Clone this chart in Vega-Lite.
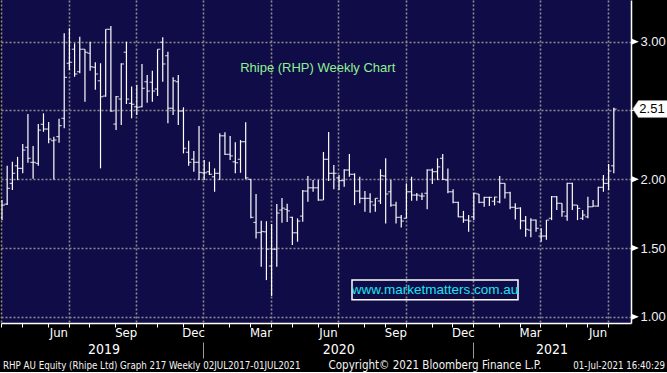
{
  "$schema": "https://vega.github.io/schema/vega-lite/v6.json",
  "width": 630,
  "height": 323,
  "padding": 0,
  "autosize": {"type": "pad"},
  "background": "#000000",
  "config": {
    "view": {"fill": "#100c48", "stroke": null},
    "axis": {"labelFont": "Liberation Sans Narrow, DejaVu Sans Condensed, Arial Narrow, sans-serif"}
  },
  "datasets": {
    "ohlc": [
      {"date": "2019-03-29", "open": 1.72, "high": 1.849, "low": 1.703, "close": 1.812},
      {"date": "2019-04-05", "open": 1.819, "high": 2.098, "low": 1.812, "close": 1.934},
      {"date": "2019-04-12", "open": 1.97, "high": 2.127, "low": 1.921, "close": 2.043},
      {"date": "2019-04-19", "open": 2.098, "high": 2.163, "low": 1.994, "close": 2.079},
      {"date": "2019-04-26", "open": 2.079, "high": 2.256, "low": 2.043, "close": 2.212},
      {"date": "2019-05-03", "open": 2.232, "high": 2.474, "low": 2.12, "close": 2.152},
      {"date": "2019-05-10", "open": 2.123, "high": 2.241, "low": 2.003, "close": 2.123},
      {"date": "2019-05-17", "open": 2.115, "high": 2.401, "low": 2.098, "close": 2.357},
      {"date": "2019-05-24", "open": 2.399, "high": 2.479, "low": 2.345, "close": 2.365},
      {"date": "2019-05-31", "open": 2.365, "high": 2.416, "low": 2.261, "close": 2.292},
      {"date": "2019-06-07", "open": 2.28, "high": 2.309, "low": 1.999, "close": 2.285},
      {"date": "2019-06-14", "open": 2.31, "high": 2.44, "low": 2.266, "close": 2.39},
      {"date": "2019-06-21", "open": 2.443, "high": 3.061, "low": 2.37, "close": 2.741},
      {"date": "2019-06-28", "open": 2.843, "high": 3.097, "low": 2.794, "close": 2.85},
      {"date": "2019-07-05", "open": 2.945, "high": 2.988, "low": 2.745, "close": 2.765},
      {"date": "2019-07-12", "open": 2.782, "high": 3.036, "low": 2.77, "close": 2.945},
      {"date": "2019-07-19", "open": 2.945, "high": 2.945, "low": 2.564, "close": 2.923},
      {"date": "2019-07-26", "open": 2.916, "high": 3.0, "low": 2.789, "close": 2.818},
      {"date": "2019-08-02", "open": 2.814, "high": 2.85, "low": 2.65, "close": 2.765},
      {"date": "2019-08-09", "open": 2.716, "high": 2.843, "low": 2.079, "close": 2.6},
      {"date": "2019-08-16", "open": 2.605, "high": 3.09, "low": 2.6, "close": 3.09},
      {"date": "2019-08-23", "open": 3.09, "high": 3.114, "low": 2.491, "close": 2.496},
      {"date": "2019-08-30", "open": 2.401, "high": 2.605, "low": 2.358, "close": 2.6},
      {"date": "2019-09-06", "open": 2.583, "high": 2.843, "low": 2.394, "close": 2.838},
      {"date": "2019-09-13", "open": 2.923, "high": 3.0, "low": 2.547, "close": 2.583},
      {"date": "2019-09-20", "open": 2.552, "high": 2.675, "low": 2.443, "close": 2.545},
      {"date": "2019-09-27", "open": 2.527, "high": 2.685, "low": 2.467, "close": 2.523},
      {"date": "2019-10-04", "open": 2.527, "high": 2.838, "low": 2.523, "close": 2.661},
      {"date": "2019-10-11", "open": 2.709, "high": 2.758, "low": 2.556, "close": 2.641},
      {"date": "2019-10-18", "open": 2.705, "high": 2.789, "low": 2.564, "close": 2.641},
      {"date": "2019-10-25", "open": 2.656, "high": 2.945, "low": 2.605, "close": 2.945},
      {"date": "2019-11-01", "open": 2.996, "high": 3.032, "low": 2.709, "close": 2.838},
      {"date": "2019-11-08", "open": 2.898, "high": 2.927, "low": 2.407, "close": 2.516},
      {"date": "2019-11-15", "open": 2.516, "high": 2.741, "low": 2.467, "close": 2.716},
      {"date": "2019-11-22", "open": 2.709, "high": 2.758, "low": 2.394, "close": 2.496},
      {"date": "2019-11-29", "open": 2.496, "high": 2.523, "low": 2.188, "close": 2.225},
      {"date": "2019-12-06", "open": 2.196, "high": 2.28, "low": 2.098, "close": 2.123},
      {"date": "2019-12-13", "open": 2.145, "high": 2.205, "low": 2.054, "close": 2.123},
      {"date": "2019-12-20", "open": 2.123, "high": 2.387, "low": 1.994, "close": 2.05},
      {"date": "2019-12-27", "open": 2.047, "high": 2.14, "low": 1.994, "close": 2.047},
      {"date": "2020-01-03", "open": 2.055, "high": 2.127, "low": 2.031, "close": 2.036},
      {"date": "2020-01-10", "open": 2.018, "high": 2.079, "low": 1.909, "close": 2.043},
      {"date": "2020-01-17", "open": 2.043, "high": 2.334, "low": 1.994, "close": 2.316},
      {"date": "2020-01-24", "open": 2.316, "high": 2.341, "low": 2.176, "close": 2.181},
      {"date": "2020-01-31", "open": 2.181, "high": 2.314, "low": 2.14, "close": 2.17},
      {"date": "2020-02-07", "open": 2.127, "high": 2.269, "low": 2.043, "close": 2.12},
      {"date": "2020-02-14", "open": 2.145, "high": 2.285, "low": 2.047, "close": 2.273},
      {"date": "2020-02-21", "open": 2.273, "high": 2.414, "low": 2.0, "close": 2.01},
      {"date": "2020-02-28", "open": 1.999, "high": 2.0, "low": 1.716, "close": 1.723},
      {"date": "2020-03-06", "open": 1.686, "high": 1.893, "low": 1.57, "close": 1.611},
      {"date": "2020-03-13", "open": 1.613, "high": 1.698, "low": 1.364, "close": 1.62},
      {"date": "2020-03-20", "open": 1.618, "high": 1.695, "low": 1.267, "close": 1.492},
      {"date": "2020-03-27", "open": 1.369, "high": 1.674, "low": 1.151, "close": 1.492},
      {"date": "2020-04-03", "open": 1.49, "high": 1.82, "low": 1.364, "close": 1.754},
      {"date": "2020-04-10", "open": 1.776, "high": 1.863, "low": 1.684, "close": 1.79},
      {"date": "2020-04-17", "open": 1.781, "high": 1.822, "low": 1.69, "close": 1.77},
      {"date": "2020-04-24", "open": 1.723, "high": 1.727, "low": 1.522, "close": 1.611},
      {"date": "2020-05-01", "open": 1.611, "high": 1.716, "low": 1.546, "close": 1.696},
      {"date": "2020-05-08", "open": 1.732, "high": 1.922, "low": 1.691, "close": 1.914},
      {"date": "2020-05-15", "open": 1.914, "high": 2.023, "low": 1.836, "close": 1.938},
      {"date": "2020-05-22", "open": 1.938, "high": 1.994, "low": 1.909, "close": 1.938},
      {"date": "2020-05-29", "open": 1.938, "high": 1.994, "low": 1.844, "close": 1.849},
      {"date": "2020-06-05", "open": 1.849, "high": 2.198, "low": 1.849, "close": 2.145},
      {"date": "2020-06-12", "open": 2.145, "high": 2.343, "low": 1.987, "close": 2.043},
      {"date": "2020-06-19", "open": 2.043, "high": 2.103, "low": 1.927, "close": 2.043},
      {"date": "2020-06-26", "open": 2.01, "high": 2.031, "low": 1.922, "close": 1.99},
      {"date": "2020-07-03", "open": 1.99, "high": 2.072, "low": 1.945, "close": 2.067},
      {"date": "2020-07-10", "open": 2.067, "high": 2.183, "low": 2.018, "close": 2.036},
      {"date": "2020-07-17", "open": 2.036, "high": 2.043, "low": 1.812, "close": 1.914},
      {"date": "2020-07-24", "open": 1.914, "high": 2.018, "low": 1.825, "close": 1.861},
      {"date": "2020-07-31", "open": 1.861, "high": 1.914, "low": 1.764, "close": 1.861},
      {"date": "2020-08-07", "open": 1.861, "high": 1.898, "low": 1.756, "close": 1.836},
      {"date": "2020-08-14", "open": 1.812, "high": 1.861, "low": 1.764, "close": 1.861},
      {"date": "2020-08-21", "open": 1.842, "high": 2.072, "low": 1.82, "close": 2.026},
      {"date": "2020-08-28", "open": 2.023, "high": 2.152, "low": 1.679, "close": 1.893},
      {"date": "2020-09-04", "open": 1.909, "high": 1.994, "low": 1.8, "close": 1.812},
      {"date": "2020-09-11", "open": 1.812, "high": 1.836, "low": 1.679, "close": 1.723},
      {"date": "2020-09-18", "open": 1.723, "high": 1.74, "low": 1.65, "close": 1.696},
      {"date": "2020-09-25", "open": 1.716, "high": 1.97, "low": 1.716, "close": 1.909},
      {"date": "2020-10-02", "open": 1.909, "high": 2.018, "low": 1.844, "close": 1.885},
      {"date": "2020-10-09", "open": 1.885, "high": 1.9, "low": 1.844, "close": 1.885},
      {"date": "2020-10-16", "open": 1.878, "high": 1.902, "low": 1.849, "close": 1.878},
      {"date": "2020-10-23", "open": 1.898, "high": 2.072, "low": 1.781, "close": 2.067},
      {"date": "2020-10-30", "open": 2.067, "high": 2.079, "low": 1.965, "close": 2.055},
      {"date": "2020-11-06", "open": 2.055, "high": 2.152, "low": 1.994, "close": 2.09},
      {"date": "2020-11-13", "open": 2.152, "high": 2.183, "low": 1.994, "close": 1.999},
      {"date": "2020-11-20", "open": 1.994, "high": 2.079, "low": 1.898, "close": 1.909},
      {"date": "2020-11-27", "open": 1.909, "high": 1.927, "low": 1.825, "close": 1.832},
      {"date": "2020-12-04", "open": 1.832, "high": 1.836, "low": 1.723, "close": 1.727},
      {"date": "2020-12-11", "open": 1.727, "high": 1.77, "low": 1.684, "close": 1.703},
      {"date": "2020-12-18", "open": 1.703, "high": 1.74, "low": 1.618, "close": 1.696},
      {"date": "2020-12-25", "open": 1.727, "high": 1.902, "low": 1.703, "close": 1.898},
      {"date": "2021-01-01", "open": 1.893, "high": 1.893, "low": 1.825, "close": 1.832},
      {"date": "2021-01-08", "open": 1.832, "high": 1.873, "low": 1.8, "close": 1.868},
      {"date": "2021-01-15", "open": 1.868, "high": 1.873, "low": 1.805, "close": 1.868},
      {"date": "2021-01-22", "open": 1.84, "high": 1.873, "low": 1.81, "close": 1.87},
      {"date": "2021-01-29", "open": 1.836, "high": 2.023, "low": 1.825, "close": 1.97},
      {"date": "2021-02-05", "open": 1.97, "high": 1.97, "low": 1.86, "close": 1.902},
      {"date": "2021-02-12", "open": 1.902, "high": 1.909, "low": 1.781, "close": 1.796},
      {"date": "2021-02-19", "open": 1.796, "high": 1.825, "low": 1.708, "close": 1.788},
      {"date": "2021-02-26", "open": 1.79, "high": 1.796, "low": 1.636, "close": 1.698},
      {"date": "2021-03-05", "open": 1.698, "high": 1.732, "low": 1.582, "close": 1.636},
      {"date": "2021-03-12", "open": 1.63, "high": 1.716, "low": 1.578, "close": 1.703},
      {"date": "2021-03-19", "open": 1.703, "high": 1.708, "low": 1.618, "close": 1.643},
      {"date": "2021-03-26", "open": 1.587, "high": 1.643, "low": 1.546, "close": 1.587},
      {"date": "2021-04-02", "open": 1.587, "high": 1.703, "low": 1.56, "close": 1.703},
      {"date": "2021-04-09", "open": 1.716, "high": 1.878, "low": 1.703, "close": 1.873},
      {"date": "2021-04-16", "open": 1.873, "high": 1.878, "low": 1.776, "close": 1.825},
      {"date": "2021-04-23", "open": 1.825, "high": 1.825, "low": 1.727, "close": 1.764},
      {"date": "2021-04-30", "open": 1.732, "high": 1.975, "low": 1.698, "close": 1.97},
      {"date": "2021-05-07", "open": 1.97, "high": 1.975, "low": 1.776, "close": 1.812},
      {"date": "2021-05-14", "open": 1.812, "high": 1.812, "low": 1.703, "close": 1.788},
      {"date": "2021-05-21", "open": 1.716, "high": 1.776, "low": 1.703, "close": 1.74},
      {"date": "2021-05-28", "open": 1.727, "high": 1.873, "low": 1.716, "close": 1.8},
      {"date": "2021-06-04", "open": 1.8, "high": 1.849, "low": 1.8, "close": 1.805},
      {"date": "2021-06-11", "open": 1.805, "high": 1.946, "low": 1.8, "close": 1.941},
      {"date": "2021-06-18", "open": 1.941, "high": 2.031, "low": 1.909, "close": 1.97},
      {"date": "2021-06-25", "open": 1.97, "high": 2.11, "low": 1.922, "close": 2.06},
      {"date": "2021-07-02", "open": 2.098, "high": 2.52, "low": 2.043, "close": 2.51}
    ]
  },
  "data": {"name": "ohlc"},
  "resolve": {"axis": {"x": "independent"}},
  "layer": [
    {
      "mark": {"type": "rule", "color": "#ffffff", "strokeWidth": 1.2, "clip": true},
      "encoding": {
        "x": {
          "field": "date", "type": "temporal",
          "scale": {"type": "utc", "domain": [{"year": 2019, "month": 3, "date": 27, "hours": 15, "minutes": 36, "utc": true}, {"year": 2021, "month": 7, "date": 25, "hours": 5, "utc": true}]},
          "axis": {
            "orient": "bottom", "title": null,
            "values": [
              {"year": 2019, "month": 3, "date": 28, "utc": true}, {"year": 2019, "month": 4, "date": 25, "utc": true},
              {"year": 2019, "month": 5, "date": 30, "utc": true}, {"year": 2019, "month": 6, "date": 27, "utc": true},
              {"year": 2019, "month": 7, "date": 25, "utc": true}, {"year": 2019, "month": 8, "date": 29, "utc": true},
              {"year": 2019, "month": 9, "date": 26, "utc": true}, {"year": 2019, "month": 10, "date": 24, "utc": true},
              {"year": 2019, "month": 11, "date": 28, "utc": true}, {"year": 2019, "month": 12, "date": 26, "utc": true},
              {"year": 2020, "month": 1, "date": 30, "utc": true}, {"year": 2020, "month": 2, "date": 27, "utc": true},
              {"year": 2020, "month": 3, "date": 26, "utc": true}, {"year": 2020, "month": 4, "date": 23, "utc": true},
              {"year": 2020, "month": 5, "date": 28, "utc": true}, {"year": 2020, "month": 6, "date": 25, "utc": true},
              {"year": 2020, "month": 7, "date": 30, "utc": true}, {"year": 2020, "month": 8, "date": 27, "utc": true},
              {"year": 2020, "month": 9, "date": 24, "utc": true}, {"year": 2020, "month": 10, "date": 29, "utc": true},
              {"year": 2020, "month": 11, "date": 26, "utc": true}, {"year": 2020, "month": 12, "date": 24, "utc": true},
              {"year": 2021, "month": 1, "date": 28, "utc": true}, {"year": 2021, "month": 2, "date": 25, "utc": true},
              {"year": 2021, "month": 3, "date": 25, "utc": true}, {"year": 2021, "month": 4, "date": 29, "utc": true},
              {"year": 2021, "month": 5, "date": 27, "utc": true}, {"year": 2021, "month": 6, "date": 24, "utc": true}
            ],
            "domain": true, "domainColor": "#ffffff", "domainWidth": 1.5,
            "ticks": true, "tickColor": "#ffffff", "tickSize": 4, "tickWidth": 1,
            "grid": true, "gridColor": "#8c8c8c", "gridDash": [2, 2], "gridWidth": 1.6,
            "gridOpacity": {"condition": {"test": "utcmonth(datum.value) % 3 == 2", "value": 1}, "value": 0},
            "labelExpr": "indexof(['Mar','Jun','Sep','Dec'], utcFormat(datum.value + 864000000, '%b')) >= 0 ? utcFormat(datum.value + 864000000, '%b') : ''",
            "labelOffset": 10.4, "labelColor": "#ffffff", "labelFontSize": 13,
            "labelBaseline": "middle", "labelPadding": 5,
            "labelOverlap": false, "labelFlush": false, "labelBound": false
          }
        },
        "y": {
          "field": "low", "type": "quantitative", "title": null,
          "scale": {"domain": [0.955, 3.303], "nice": false, "zero": false},
          "axis": {
            "orient": "right", "title": null,
            "values": [1, 1.25, 1.5, 1.75, 2, 2.25, 2.5, 2.75, 3, 3.25],
            "domainColor": "#ffffff", "domainWidth": 1.5,
            "tickColor": "#ffffff", "tickSize": 4, "tickWidth": 1,
            "grid": true, "gridColor": "#8c8c8c", "gridDash": [2, 2], "gridWidth": 1.6,
            "gridOpacity": {"condition": {"test": "(datum.value * 2) % 1 == 0", "value": 1}, "value": 0},
            "labelExpr": "(datum.value * 2) % 1 == 0 && datum.value != 2.5 ? format(datum.value, '.2f') : ''",
            "labelPadding": 5, "labelColor": "#f0f0f8", "labelFont": "Liberation Sans, Arial, sans-serif", "labelFontSize": 13,
            "labelOverlap": false, "labelFlush": false, "labelBound": false
          }
        },
        "y2": {"field": "high"}
      }
    },
    {
      "mark": {"type": "tick", "orient": "horizontal", "color": "#ffffff", "size": 2.8, "thickness": 1.2, "xOffset": -1.4, "clip": true},
      "encoding": {
        "x": {"field": "date", "type": "temporal", "axis": null},
        "y": {"field": "open", "type": "quantitative", "title": null}
      }
    },
    {
      "mark": {"type": "tick", "orient": "horizontal", "color": "#ffffff", "size": 2.8, "thickness": 1.2, "xOffset": 1.4, "clip": true},
      "encoding": {
        "x": {"field": "date", "type": "temporal", "axis": null},
        "y": {"field": "close", "type": "quantitative", "title": null}
      }
    },
    {
      "data": {"values": [{}]},
      "mark": {"type": "text", "text": "Rhipe (RHP) Weekly Chart", "color": "#8ff08f", "font": "Liberation Sans, Arial, sans-serif", "fontSize": 13, "align": "center", "baseline": "middle"},
      "encoding": {
        "x": {
          "datum": {"year": 2020, "month": 5, "date": 28, "hours": 6, "utc": true}, "type": "temporal",
          "axis": {
            "orient": "bottom", "title": null, "offset": 19,
            "values": [
              {"year": 2019, "month": 8, "date": 13, "utc": true},
              {"year": 2019, "month": 12, "date": 26, "utc": true},
              {"year": 2020, "month": 6, "date": 25, "utc": true},
              {"year": 2020, "month": 12, "date": 24, "utc": true},
              {"year": 2021, "month": 4, "date": 9, "utc": true}
            ],
            "domain": false, "grid": false,
            "ticks": true, "tickColor": "#9a9a9a", "tickSize": 16, "tickWidth": 1,
            "tickOpacity": {"condition": {"test": "utcmonth(datum.value) == 11", "value": 1}, "value": 0},
            "labelExpr": "utcmonth(datum.value) == 11 ? '' : utcFormat(datum.value, '%Y')",
            "labelBaseline": "middle", "labelPadding": -9, "labelColor": "#ffffff", "labelFontSize": 14,
            "labelOverlap": false, "labelFlush": false, "labelBound": false
          }
        },
        "y": {"datum": 2.812, "type": "quantitative"}
      }
    },
    {
      "data": {"values": [{}]},
      "mark": {"type": "rect", "fillOpacity": 0, "stroke": "#ffffff", "strokeWidth": 1.5},
      "encoding": {
        "x": {"datum": {"year": 2020, "month": 7, "date": 13, "hours": 13, "utc": true}, "type": "temporal", "axis": null},
        "x2": {"datum": {"year": 2021, "month": 2, "date": 22, "hours": 15, "utc": true}},
        "y": {"datum": 1.267, "type": "quantitative"},
        "y2": {"datum": 1.124}
      }
    },
    {
      "data": {"values": [{}]},
      "mark": {"type": "text", "text": "www.marketmatters.com.au", "color": "#1de4f0", "font": "Liberation Sans, Arial, sans-serif", "fontSize": 13.5, "align": "center", "baseline": "middle"},
      "encoding": {
        "x": {"datum": {"year": 2020, "month": 11, "date": 2, "hours": 12, "utc": true}, "type": "temporal", "axis": null},
        "y": {"datum": 1.194, "type": "quantitative"}
      }
    },
    {
      "data": {"values": [{}]},
      "mark": {"type": "text", "text": "RHP AU Equity (Rhipe Ltd) Graph 217  Weekly 02JUL2017-01JUL2021", "color": "#f4f4f4", "font": "Liberation Sans Narrow, DejaVu Sans Condensed, Arial Narrow, sans-serif", "fontSize": 9.7, "align": "left", "baseline": "middle"},
      "encoding": {
        "x": {"datum": {"year": 2019, "month": 3, "date": 30, "hours": 8, "utc": true}, "type": "temporal", "axis": null},
        "y": {"datum": 0.641, "type": "quantitative"}
      }
    },
    {
      "data": {"values": [{}]},
      "mark": {"type": "text", "text": "Copyright© 2021 Bloomberg Finance L.P.", "color": "#f4f4f4", "font": "Liberation Sans Narrow, DejaVu Sans Condensed, Arial Narrow, sans-serif", "fontSize": 11.5, "align": "center", "baseline": "middle"},
      "encoding": {
        "x": {"datum": {"year": 2020, "month": 11, "date": 2, "hours": 14, "utc": true}, "type": "temporal", "axis": null},
        "y": {"datum": 0.641, "type": "quantitative"}
      }
    },
    {
      "data": {"values": [{}]},
      "mark": {"type": "text", "text": "01-Jul-2021 16:40:29", "color": "#f4f4f4", "font": "Liberation Sans Narrow, DejaVu Sans Condensed, Arial Narrow, sans-serif", "fontSize": 9.6, "align": "right", "baseline": "middle"},
      "encoding": {
        "x": {"datum": {"year": 2021, "month": 9, "date": 9, "utc": true}, "type": "temporal", "axis": null},
        "y": {"datum": 0.641, "type": "quantitative"}
      }
    },
    {
      "data": {"values": [{}]},
      "mark": {"type": "point", "shape": "M0.1,-1L2.5,0L0.1,1Z", "size": 40, "filled": true, "fill": "#ffffff", "strokeWidth": 0, "opacity": 1},
      "encoding": {
        "x": {"datum": {"year": 2021, "month": 7, "date": 25, "hours": 5, "utc": true}, "type": "temporal", "axis": null},
        "y": {"datum": 3.0, "type": "quantitative"}
      }
    },
    {
      "data": {"values": [{}]},
      "mark": {"type": "point", "shape": "M0.1,-1L2.5,0L0.1,1Z", "size": 40, "filled": true, "fill": "#ffffff", "strokeWidth": 0, "opacity": 1},
      "encoding": {
        "x": {"datum": {"year": 2021, "month": 7, "date": 25, "hours": 5, "utc": true}, "type": "temporal", "axis": null},
        "y": {"datum": 2.0, "type": "quantitative"}
      }
    },
    {
      "data": {"values": [{}]},
      "mark": {"type": "point", "shape": "M0.1,-1L2.5,0L0.1,1Z", "size": 40, "filled": true, "fill": "#ffffff", "strokeWidth": 0, "opacity": 1},
      "encoding": {
        "x": {"datum": {"year": 2021, "month": 7, "date": 25, "hours": 5, "utc": true}, "type": "temporal", "axis": null},
        "y": {"datum": 1.5, "type": "quantitative"}
      }
    },
    {
      "data": {"values": [{}]},
      "mark": {"type": "point", "shape": "M0.1,-1L2.5,0L0.1,1Z", "size": 40, "filled": true, "fill": "#ffffff", "strokeWidth": 0, "opacity": 1},
      "encoding": {
        "x": {"datum": {"year": 2021, "month": 7, "date": 25, "hours": 5, "utc": true}, "type": "temporal", "axis": null},
        "y": {"datum": 1.0, "type": "quantitative"}
      }
    },
    {
      "data": {"values": [{}]},
      "mark": {"type": "point", "shape": "M0.2,0L0.87,-1L4.35,-1L4.35,1L0.87,1Z", "size": 289, "filled": true, "fill": "#ffffff", "stroke": "#9a9a9a", "strokeWidth": 0.6, "opacity": 1},
      "encoding": {
        "x": {"datum": {"year": 2021, "month": 7, "date": 25, "hours": 5, "utc": true}, "type": "temporal", "axis": null},
        "y": {"datum": 2.51, "type": "quantitative"}
      }
    },
    {
      "data": {"values": [{}]},
      "mark": {"type": "text", "text": "2.51", "color": "#000000", "font": "Liberation Sans, Arial, sans-serif", "fontSize": 13, "align": "center", "baseline": "middle", "dx": 21},
      "encoding": {
        "x": {"datum": {"year": 2021, "month": 7, "date": 25, "hours": 5, "utc": true}, "type": "temporal", "axis": null},
        "y": {"datum": 2.51, "type": "quantitative"}
      }
    }
  ]
}
